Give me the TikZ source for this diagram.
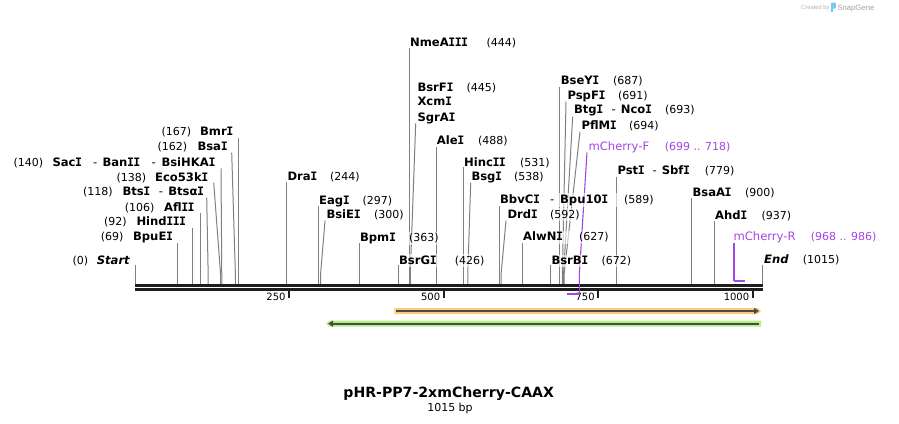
\documentclass[tikz,border=0pt]{standalone}
\usepackage{fontspec}
\setmainfont{DejaVu Sans}
\newfontfamily\monoI{DejaVu Sans Mono}
\newfontfamily\libsans{Liberation Sans}
\usetikzlibrary{arrows.meta}
\definecolor{sitegray}{gray}{0.5}
\definecolor{bbcol}{HTML}{1E1E1E}
\definecolor{purp}{HTML}{A545E6}
\definecolor{orfill}{HTML}{FDC97C}
\definecolor{grfill}{HTML}{B6F084}
\definecolor{featln}{HTML}{4A4A4A}
\definecolor{logogray}{HTML}{B4B4B4}
\definecolor{logoblue}{HTML}{74C8F2}
\newcommand\vI{{\monoI\bfseries\kern-0.028em I\kern-0.028em}}
\newcommand\enz[1]{\textbf{#1}}
\newcommand\bx[2]{\makebox[#1pt][l]{#2}}
\newcommand\nb[1]{{\fontsize{11}{13}\selectfont #1}}
\newcommand\sitev[3]{%
  \coordinate (#1t) at ({135.2+#3*0.6182},#2);
  \coordinate (#1b) at ({135.2+#3*0.6182},284);
  \draw[siteln] (#1t) -- (#1b);}
\newcommand\sites[4]{%
  \coordinate (#1t) at (#2,#3);
  \coordinate (#1k) at ({135.2+#4*0.6182},273);
  \coordinate (#1b) at ({135.2+#4*0.6182},284);
  \draw[siteln] (#1t) -- (#1k) -- (#1b);}
\tikzset{
  lab/.style={anchor=base west, inner xsep=0.6pt, inner ysep=1.2pt, fill=white,
    fill opacity=0.6, text opacity=1, font=\fontsize{11.6}{13}\selectfont},
  plab/.style={lab, text=purp},
  siteln/.style={draw=sitegray, line width=1pt},
  primerln/.style={draw=purp, line width=1.1pt},
  primerbar/.style={draw=purp, line width=2.2pt},
  bbline/.style={draw=bbcol, line width=2.7pt},
  tickln/.style={draw=bbcol, line width=2pt},
  ticklab/.style={anchor=base east, inner sep=0pt, font=\fontsize{10}{12}\selectfont},
  featarrow/.style={draw=featln, line width=2.2pt, -{Triangle[length=5pt,width=6pt]}},
}
\begin{document}
\begin{tikzpicture}[x=1pt,y=-1pt]
\useasboundingbox (0,0) rectangle (899,423);
\fill[white] (0,0) rectangle (899,423);

% ---------- connector lines ----------
\sitev{Bmr}{138}{167}
\sites{Bsa}{231.7}{152.7}{162}
\sites{Sac}{221}{168.3}{140}
\sites{Eco}{213.7}{182.7}{138}
\sites{Bts}{206.7}{197.7}{118}
\sitev{Afl}{213.3}{106}
\sitev{Hind}{227.7}{92}
\sitev{BpuE}{242.7}{69}
\sitev{Start}{265}{0}
\sitev{Dra}{182.3}{244}
\sitev{Eag}{205.7}{297}
\sites{BsiE}{325}{220.7}{300}
\sitev{Bpm}{243.3}{363}
\sitev{BsrG}{265}{426}
\sitev{Nme}{48.3}{444}
\sites{BsrF}{415.7}{123.3}{445}
\sitev{Ale}{146.7}{488}
\sitev{Hinc}{167.3}{531}
\sites{Bsg}{470.7}{182.7}{538}
\sitev{Bbv}{206}{589}
\sites{Drd}{506}{220.7}{592}
\sitev{Alw}{243}{627}
\sitev{BsrB}{265}{672}
\sitev{BseY}{86.7}{687}
\sites{PspF}{566}{101.7}{691}
\sites{Btg}{572.7}{116.7}{693}
\sites{PflM}{580}{131.7}{694}
\sitev{Pst}{176.7}{779}
\sitev{BsaA}{198.3}{900}
\sitev{Ahd}{221}{937}
\sitev{End}{265}{1015}
% primer connectors
\coordinate (mFt) at (587,152.5);
\coordinate (mFk) at (579.4,273);
\coordinate (mFb) at (579.4,294);
\coordinate (mFe) at (567.3,294);
\coordinate (mRt) at (733.6,243.3);
\coordinate (mRb) at (733.6,280.7);
\coordinate (mRe) at (744.8,280.7);
\draw[primerln] (mFt) -- (mFk) -- (mFb);

% ---------- labels, left side ----------
\node[lab] (lBmr) at (160.7,135.9) {\bx{38.6}{\nb{(167)}}\enz{Bmr\vI}};
\node[lab] (lBsa) at (156.7,150.9) {\bx{40}{\nb{(162)}}\enz{Bsa\vI}};
\node[lab] (lSac) at (12.7,166.9) {\bx{39}{\nb{(140)}}\bx{40.6}{\enz{Sac\vI}}\bx{9.4}{-}\bx{49}{\enz{Ban\vI\vI}}\bx{10}{-}\enz{BsiHKA\vI}};
\node[lab] (lEco) at (115.7,181.5) {\bx{38.6}{\nb{(138)}}\enz{Eco53k\vI}};
\node[lab] (lBts) at (82.3,195.9) {\bx{39.4}{\nb{(118)}}\bx{36.3}{\enz{Bts\vI}}\bx{9.5}{-}\enz{Btsα\vI}};
\node[lab] (lAfl) at (124,211.5) {\bx{39.3}{\nb{(106)}}\enz{Afl\vI\vI}};
\node[lab] (lHind) at (103.3,225.2) {\bx{32.4}{\nb{(92)}}\enz{Hind\vI\vI\vI}};
\node[lab] (lBpuE) at (100,240.9) {\bx{32.3}{\nb{(69)}}\enz{BpuE\vI}};
\node[lab] (lStart) at (71.7,264.2) {\bx{24.3}{\nb{(0)}}\enz{\itshape Start}};

% ---------- labels, right side ----------
\node[lab] (rDra) at (286.7,180.9) {\bx{42.6}{\enz{Dra\vI}}\nb{(244)}};
\node[lab] (rEag) at (318.3,204.2) {\bx{43.4}{\enz{Eag\vI}}\nb{(297)}};
\node[lab] (rBsiE) at (325.7,218.5) {\bx{47.6}{\enz{BsiE\vI}}\nb{(300)}};
\node[lab] (rBpm) at (359.3,241.5) {\bx{49}{\enz{Bpm\vI}}\nb{(363)}};
\node[lab] (rBsrG) at (398.3,264.2) {\bx{55.7}{\enz{BsrG\vI}}\nb{(426)}};
\node[lab] (rNme) at (409.3,46.5) {\bx{76.4}{\enz{NmeA\vI\vI\vI}}\nb{(444)}};
\node[lab] (rBsrF) at (416.7,91.5) {\bx{49}{\enz{BsrF\vI}}\nb{(445)}};
\node[lab] (rXcm) at (416.7,105.9) {\enz{Xcm\vI}};
\node[lab] (rSgrA) at (416.7,121.5) {\enz{SgrA\vI}};
\node[lab] (rAle) at (436,144.2) {\bx{41.3}{\enz{Ale\vI}}\nb{(488)}};
\node[lab] (rHinc) at (463.3,166.5) {\bx{56}{\enz{Hinc\vI\vI}}\nb{(531)}};
\node[lab] (rBsg) at (470.7,180.9) {\bx{42.6}{\enz{Bsg\vI}}\nb{(538)}};
\node[lab] (rBbv) at (499.3,203.5) {\bx{50}{\enz{BbvC\vI}}\bx{10}{-}\bx{64}{\enz{Bpu10\vI}}\nb{(589)}};
\node[lab] (rDrd) at (506.7,218.5) {\bx{42.6}{\enz{Drd\vI}}\nb{(592)}};
\node[lab] (rAlw) at (522.3,240.9) {\bx{56}{\enz{AlwN\vI}}\nb{(627)}};
\node[lab] (rBsrB) at (550.7,264.2) {\bx{50}{\enz{BsrB\vI}}\nb{(672)}};
\node[lab] (rBseY) at (560,84.2) {\bx{52.3}{\enz{BseY\vI}}\nb{(687)}};
\node[lab] (rPspF) at (566.7,99.2) {\bx{50.6}{\enz{PspF\vI}}\nb{(691)}};
\node[lab] (rBtg) at (573.3,113.5) {\bx{37.4}{\enz{Btg\vI}}\bx{9.3}{-}\bx{44.3}{\enz{Nco\vI}}\nb{(693)}};
\node[lab] (rPflM) at (580.7,129.2) {\bx{47.6}{\enz{PflM\vI}}\nb{(694)}};
\node[plab] (rmF) at (587.7,150.9) {\bx{76.3}{mCherry-F}\nb{(699 .. 718)}};
\node[lab] (rPst) at (616.7,174.9) {\bx{35}{\enz{Pst\vI}}\bx{9.3}{-}\bx{43}{\enz{Sbf\vI}}\nb{(779)}};
\node[lab] (rBsaA) at (691.7,196.5) {\bx{52.6}{\enz{BsaA\vI}}\nb{(900)}};
\node[lab] (rAhd) at (714.3,219.2) {\bx{46.4}{\enz{Ahd\vI}}\nb{(937)}};
\node[plab] (rmR) at (732.7,240.9) {\bx{77.3}{mCherry-R}\nb{(968 .. 986)}};
\node[lab] (rEnd) at (763.3,263.5) {\bx{38.7}{\enz{\itshape End}}\nb{(1015)}};

% ---------- backbone ----------
\coordinate (bb1L) at (135.2,285.3);
\coordinate (bb1R) at (762.9,285.3);
\coordinate (bb2L) at (135.2,289.4);
\coordinate (bb2R) at (762.9,289.4);
\draw[bbline] (bb1L) -- (bb1R);
\draw[bbline] (bb2L) -- (bb2R);

% ticks
\foreach \t/\xx in {250/289.2, 500/443.9, 750/598.4, 1000/752.9}{
  \coordinate (tk\t a) at (\xx,290.5);
  \coordinate (tk\t b) at (\xx,297.5);
  \draw[tickln] (tk\t a) -- (tk\t b);
  \node[ticklab] (tl\t) at (\xx-3.5,300.4) {\t};
}

% primer marks
\draw[primerln] (mFk) -- (mFb);
\draw[primerbar] (mFb) -- (mFe);
\draw[primerln, line width=1.8pt] (mRt) -- (mRb);
\draw[primerbar] (mRb) -- (mRe);

% ---------- features ----------
\fill[orfill] (394.3,308) -- (757.5,308) -- (761,311) -- (757.5,314) -- (394.3,314) -- cycle;
\coordinate (orA) at (396,311);
\coordinate (orB) at (759,311);
\draw[featarrow] (orA) -- (orB);
\fill[grfill] (761,320.7) -- (329.5,320.7) -- (326,323.7) -- (329.5,326.7) -- (761,326.7) -- cycle;
\coordinate (grA) at (759,323.7);
\coordinate (grB) at (328,323.7);
\draw[featarrow] (grA) -- (grB);

% ---------- title ----------
\node[anchor=base, inner sep=0pt, font=\fontsize{14.1}{16}\selectfont\bfseries] (title) at (448.7,397.6) {pHR-PP7-2xmCherry-CAAX};
\node[anchor=base, inner sep=0pt, font=\fontsize{11}{13}\selectfont] (len) at (450,411.3) {1015 bp};

% ---------- logo ----------
\node[anchor=base west, inner sep=0pt, text=logogray, font=\libsans\fontsize{5.8}{7}\selectfont] (cby) at (801,9.6) {Created by};
\fill[logoblue, rounded corners=1pt] (831,2.5) rectangle (835.8,8.5);
\fill[logoblue] (831,5) rectangle (833.2,12);
\node[anchor=base west, inner sep=0pt, text=logogray!90!black, font=\libsans\fontsize{7.7}{9}\selectfont] (sg) at (837.3,10.2) {SnapGene};
\end{tikzpicture}
\end{document}
